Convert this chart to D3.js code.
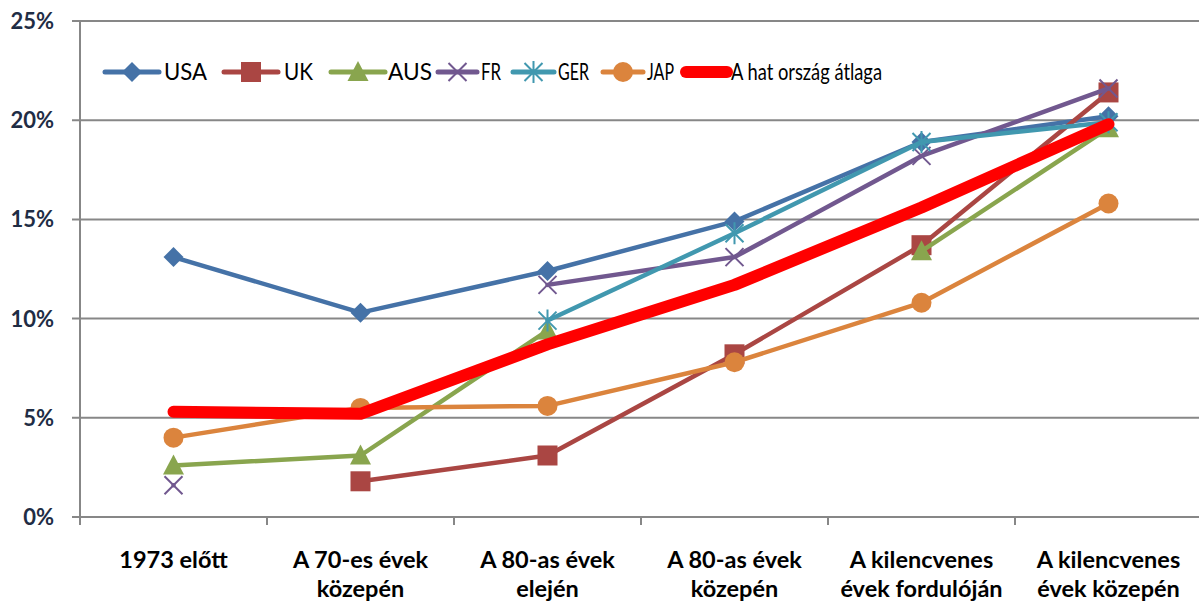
<!DOCTYPE html>
<html>
<head>
<meta charset="utf-8">
<script src="https://cdn.jsdelivr.net/npm/d3@7"></script>
<style>
  html, body { margin: 0; padding: 0; background: #fff; }
  svg { display: block; }
</style>
</head>
<body>
<svg id="chart" width="1199" height="605"></svg>
<script>
// Categories (periods) and the share per country, in percent
const categories = [
  ["1973 előtt"],
  ["A 70-es évek", "közepén"],
  ["A 80-as évek", "elején"],
  ["A 80-as évek", "közepén"],
  ["A kilencvenes", "évek fordulóján"],
  ["A kilencvenes", "évek közepén"]
];
const usa = [13.1, 10.3, 12.4, 14.9, 18.9, 20.2];
const uk  = [null, 1.8, 3.1, 8.2, 13.7, 21.4];
const aus = [2.6, 3.1, 9.4, null, 13.4, 19.6];
const fr  = [1.6, null, 11.7, 13.1, 18.2, 21.6];
const ger = [null, null, 9.9, 14.3, 18.9, 19.9];
const jap = [4.0, 5.5, 5.6, 7.8, 10.8, 15.8];
const avg = [5.3, 5.2, 8.7, 11.7, 15.6, 19.8];
const yTicks = [0, 5, 10, 15, 20, 25];

const seriesList = [
  { name: "USA", values: usa, color: "#4572A7", marker: "diamond" },
  { name: "UK",  values: uk,  color: "#AA4643", marker: "square" },
  { name: "AUS", values: aus, color: "#89A54E", marker: "triangle" },
  { name: "FR",  values: fr,  color: "#71588F", marker: "x" },
  { name: "GER", values: ger, color: "#4198AF", marker: "star" },
  { name: "JAP", values: jap, color: "#DB843D", marker: "circle" },
  { name: "A hat ország átlaga", values: avg, color: "#FF0000", marker: null, width: 12 }
];

const svg = d3.select("#chart");
const plotLeft = 80, plotTop = 21, plotBottom = 517, step = 187;
const x = d3.scaleBand().domain(d3.range(categories.length))
  .range([plotLeft, plotLeft + step * categories.length]).padding(0);
const y = d3.scaleLinear().domain([0, 25]).range([plotBottom, plotTop]);
const cx = i => x(i) + x.bandwidth() / 2;

const gridColor = "#878787";

// horizontal gridlines with small ticks left of the axis
svg.append("g").selectAll("line").data(yTicks).join("line")
  .attr("x1", plotLeft - 8).attr("x2", 1199)
  .attr("y1", d => y(d)).attr("y2", d => y(d))
  .attr("stroke", gridColor).attr("stroke-width", 2);

// vertical axis line
svg.append("line")
  .attr("x1", plotLeft).attr("x2", plotLeft).attr("y1", y(25)).attr("y2", plotBottom + 8)
  .attr("stroke", gridColor).attr("stroke-width", 2);

// category boundary ticks below the baseline
svg.append("g").selectAll("line").data(d3.range(categories.length + 1)).join("line")
  .attr("x1", d => plotLeft + d * step).attr("x2", d => plotLeft + d * step)
  .attr("y1", plotBottom).attr("y2", plotBottom + 8)
  .attr("stroke", gridColor).attr("stroke-width", 2);

// y tick labels
svg.append("g").selectAll("text").data(yTicks).join("text")
  .attr("x", 54).attr("y", d => y(d) + 8)
  .attr("text-anchor", "end")
  .attr("font-family", "Lato, 'Open Sans', sans-serif")
  .attr("font-weight", "bold").attr("font-size", 22)
  .attr("fill", "#1F2D45")
  .text(d => d + "%");

// category labels (two lines)
const catG = svg.append("g")
  .attr("font-family", "Lato, 'Open Sans', sans-serif")
  .attr("font-weight", "bold").attr("font-size", 23.5).attr("fill", "#000");
categories.forEach((lines, i) => {
  const t = catG.append("text").attr("text-anchor", "middle");
  lines.forEach((ln, k) => {
    t.append("tspan").attr("x", cx(i)).attr("y", 568 + k * 29).text(ln);
  });
});

// marker drawing
function drawMarker(g, type, px, py, color) {
  const s = 9;
  if (type === "diamond") {
    g.append("path").attr("d", `M${px},${py - 10}L${px + 10},${py}L${px},${py + 10}L${px - 10},${py}Z`).attr("fill", color);
  } else if (type === "square") {
    g.append("rect").attr("x", px - 10).attr("y", py - 10).attr("width", 20).attr("height", 20).attr("fill", color);
  } else if (type === "triangle") {
    g.append("path").attr("d", `M${px},${py - 11}L${px + 10.5},${py + 9}L${px - 10.5},${py + 9}Z`).attr("fill", color);
  } else if (type === "x") {
    g.append("path").attr("d", `M${px - s},${py - s}L${px + s},${py + s}M${px + s},${py - s}L${px - s},${py + s}`)
      .attr("stroke", color).attr("stroke-width", 2).attr("fill", "none");
  } else if (type === "star") {
    g.append("path").attr("d", `M${px - s},${py - s}L${px + s},${py + s}M${px + s},${py - s}L${px - s},${py + s}M${px},${py - 11}L${px},${py + 11}`)
      .attr("stroke", color).attr("stroke-width", 2).attr("fill", "none");
  } else if (type === "circle") {
    g.append("circle").attr("cx", px).attr("cy", py).attr("r", 10).attr("fill", color);
  }
}

// series lines and markers
const line = d3.line()
  .defined(d => d.v != null)
  .x(d => cx(d.i)).y(d => y(d.v));

seriesList.forEach(s => {
  const g = svg.append("g");
  const pts = s.values.map((v, i) => ({ v, i }));
  g.append("path").attr("d", line(pts))
    .attr("fill", "none").attr("stroke", s.color)
    .attr("stroke-width", s.width || 4.5)
    .attr("stroke-linejoin", "round").attr("stroke-linecap", "round");
  if (s.marker) {
    pts.filter(p => p.v != null).forEach(p => drawMarker(g, s.marker, cx(p.i), y(p.v), s.color));
  }
});

// legend: line start, line end, text start, text width
const legendX = [[105, 159, 164, 43], [224, 278, 284, 29], [331, 385, 388, 44], [438, 477, 481, 20], [513, 554, 558, 31], [603, 643, 647, 27], [686, 727, 731, 151]];
const legY = 72;
const leg = svg.append("g");
seriesList.forEach((s, k) => {
  const [x1, x2, tx, tw] = legendX[k];
  leg.append("line").attr("x1", x1).attr("x2", x2).attr("y1", legY).attr("y2", legY)
    .attr("stroke", s.color).attr("stroke-width", s.width ? 12 : 5).attr("stroke-linecap", "round");
  if (s.marker) drawMarker(leg, s.marker, (x1 + x2) / 2, legY, s.color);
  leg.append("text").attr("x", tx).attr("y", legY + 8)
    .attr("font-family", "Lato, 'Open Sans', sans-serif").attr("font-size", 23.5)
    .attr("textLength", tw).attr("lengthAdjust", "spacingAndGlyphs")
    .attr("fill", "#000").text(s.name);
});
</script>
</body>
</html>
